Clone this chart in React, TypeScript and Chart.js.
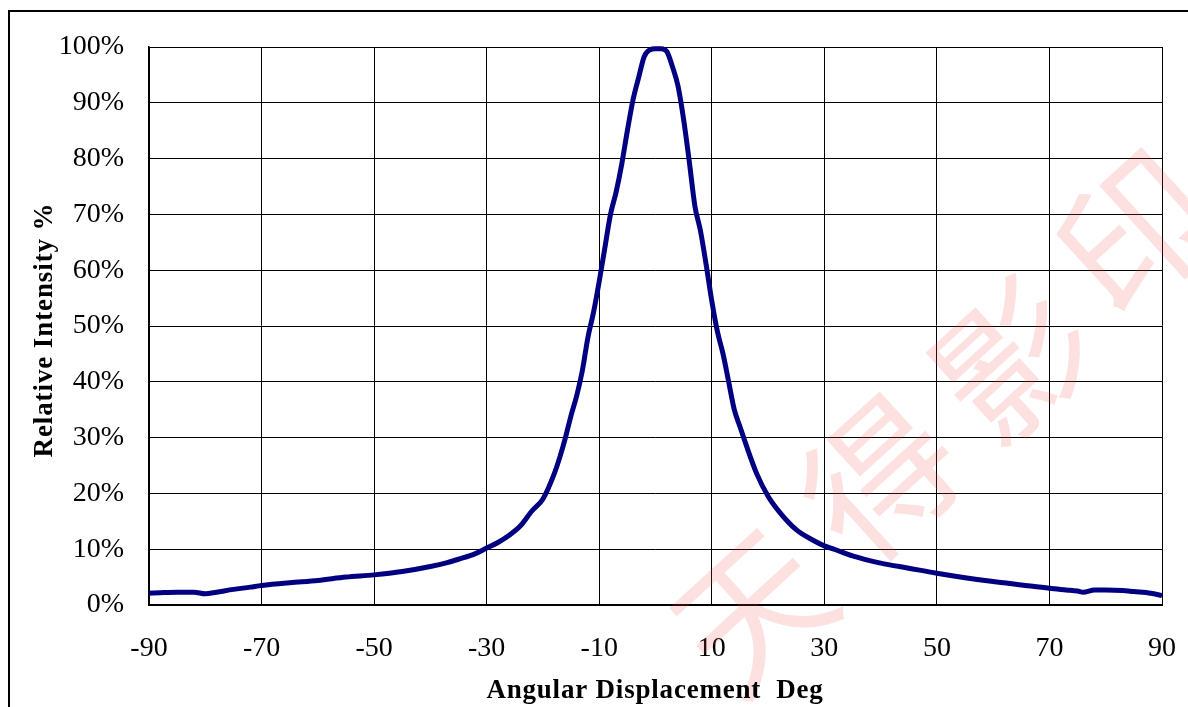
import React, { useEffect, useRef } from "react";
import { Chart, registerables } from "chart.js";

Chart.register(...registerables);

// Angular displacement (deg)
const angles = [
  -90, -88, -85, -82, -80, -78, -75, -72, -70, -65, -60, -55, -50, -45, -40, -37, -35, -32, -30,
  -28, -26, -24, -22, -20, -18, -17, -16, -15, -14, -13, -12, -11, -10, -9, -8, -7, -6, -5, -4,
  -3, -2, -1, 0, 1, 2, 3, 4, 5, 6, 7, 8, 9, 10, 11, 12, 13, 14, 15, 16, 18, 20, 22, 25, 28, 30,
  32, 35, 40, 45, 50, 55, 60, 65, 70, 73, 75, 76, 78, 80, 83, 85, 88, 90,
];

// Relative intensity (%)
const intensity = [
  2.1, 2.2, 2.3, 2.3, 2.0, 2.3, 2.8, 3.2, 3.5, 4.0, 4.4, 5.0, 5.4, 6.0, 6.9, 7.6, 8.2, 9.2, 10.2,
  11.2, 12.5, 14.2, 16.8, 19.0, 23.5, 26.5, 30, 34, 37.5, 42, 48, 52.5, 58, 64, 70, 74, 79, 85, 90.5,
  94.5, 98.3, 99.5, 99.7, 99.7, 99.2, 96.5, 93, 87, 79.5, 71.5, 67, 61, 54.5, 49, 45, 40, 35, 32, 29,
  23.5, 19.5, 16.7, 13.5, 11.6, 10.6, 9.9, 8.8, 7.5, 6.6, 5.7, 4.9, 4.2, 3.6, 3.0, 2.7, 2.5, 2.3,
  2.7, 2.7, 2.6, 2.4, 2.1, 1.7,
];

const xTickValues = [-90, -70, -50, -30, -10, 10, 30, 50, 70, 90];
const yTickValues = [0, 10, 20, 30, 40, 50, 60, 70, 80, 90, 100];

const xTitle = "Angular Displacement  Deg";
const yTitle = "Relative Intensity %";
const watermarkChars = ["天", "得", "影", "印"];

const SERIF = '"Liberation Serif", "Times New Roman", serif';

export default function App() {
  const canvasRef = useRef<HTMLCanvasElement>(null);

  useEffect(() => {
    const canvas = canvasRef.current;
    if (!canvas) return;

    const decor = {
      id: "decor",
      beforeDraw(chart: any) {
        const c = chart.ctx;
        c.save();
        c.fillStyle = "#ffffff";
        c.fillRect(0, 0, chart.width, chart.height);
        c.restore();
      },
      beforeDatasetsDraw(chart: any) {
        const c = chart.ctx;
        const centers = [
          [752, 610],
          [880, 478],
          [1012, 360],
          [1135, 232],
        ];
        c.save();
        c.fillStyle = "rgba(245, 70, 70, 0.17)";
        c.font = '150px "Noto Sans CJK SC"';
        c.textAlign = "center";
        c.textBaseline = "middle";
        watermarkChars.forEach((ch, i) => {
          c.save();
          c.translate(centers[i][0], centers[i][1]);
          c.rotate(-0.74);
          c.fillText(ch, 0, 0);
          c.restore();
        });
        c.restore();
      },
      afterDraw(chart: any) {
        const c = chart.ctx;
        c.save();
        // outer frame
        c.fillStyle = "#000";
        c.fillRect(8, 10, 2, chart.height);
        c.fillRect(8, 10, chart.width, 2);
        // axis titles
        c.fillStyle = "#000";
        c.font = "bold 27px " + SERIF;
        (c as any).letterSpacing = "0.8px";
        c.textAlign = "center";
        c.textBaseline = "alphabetic";
        c.fillText(xTitle, 655, 698);
        c.translate(52, 330);
        c.rotate(-Math.PI / 2);
        (c as any).letterSpacing = "0.9px";
        c.fillText(yTitle, 0, 0);
        c.restore();
      },
    };

    const chart = new Chart(canvas, {
      type: "line",
      data: {
        datasets: [
          {
            data: angles.map((a, i) => ({ x: a, y: intensity[i] })),
            borderColor: "#000080",
            borderWidth: 5,
            pointRadius: 0,
            fill: false,
            cubicInterpolationMode: "monotone",
            clip: 4,
          },
        ],
      },
      options: {
        responsive: false,
        animation: false,
        devicePixelRatio: 1,
        layout: { padding: { left: 0, top: 47, right: 26, bottom: 0 } },
        plugins: {
          legend: { display: false },
          tooltip: { enabled: false },
          title: { display: false },
        },
        scales: {
          x: {
            type: "linear",
            min: -90,
            max: 90,
            afterBuildTicks: (s: any) => {
              s.ticks = xTickValues.map((v) => ({ value: v }));
            },
            afterFit: (s: any) => {
              s.height = 102;
              s.paddingLeft = 0;
              s.paddingRight = 0;
            },
            ticks: {
              color: "#000",
              font: { family: SERIF, size: 28 },
              padding: 27,
              maxRotation: 0,
              autoSkip: false,
            },
            grid: { color: "#000", lineWidth: 1, drawTicks: false },
            border: { color: "#000", width: 2 },
          },
          y: {
            type: "linear",
            min: 0,
            max: 100,
            afterBuildTicks: (s: any) => {
              s.ticks = yTickValues.map((v) => ({ value: v }));
            },
            afterFit: (s: any) => {
              s.width = 149;
              s.paddingTop = 0;
              s.paddingBottom = 0;
            },
            ticks: {
              color: "#000",
              font: { family: SERIF, size: 28 },
              padding: 25,
              callback: (v: any) => v + "%",
            },
            grid: { color: "#000", lineWidth: 1, drawTicks: false },
            border: { color: "#000", width: 1.5 },
          },
        },
      },
      plugins: [decor],
    } as any);

    return () => chart.destroy();
  }, []);

  return (
    <div style={{ position: "fixed", left: 0, top: 0, width: 1188, height: 707, background: "#fff" }}>
      <canvas ref={canvasRef} width={1188} height={707} style={{ display: "block", width: 1188, height: 707 }} />
    </div>
  );
}
